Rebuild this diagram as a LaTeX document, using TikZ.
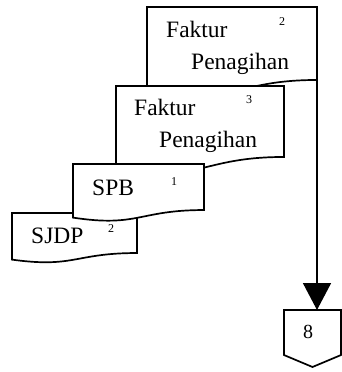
\documentclass[tikz,border=0pt]{standalone}
\usepackage{fontspec}
\setmainfont{Liberation Serif}
\usetikzlibrary{arrows.meta, calc, positioning}

% bentuk dokumen (gelombang di bawah)
\newcommand{\dokumen}[1]{%
  \draw[docline] (#1.north west) -- (#1.north east)
    -- ($(#1.north east)!0.802!(#1.south east)$) coordinate (#1-ujung)
    .. controls ($(#1.north)!0.802!(#1.south)$) and ($(#1.north)!1.1075!(#1.south)$)
    .. ($(#1.north west)!0.934!(#1.south west)$) -- cycle;}

\begin{document}
\begin{tikzpicture}[x=1pt,y=-1pt]
    \tikzset{
      docline/.style={line width=1.7pt, fill=white},
      docbox/.style={inner sep=0pt, outer sep=0pt},
      teks/.style={anchor=base west, inner sep=0pt, font=\fontsize{23.5}{26}\selectfont},
      angka/.style={inner sep=0pt, font=\fontsize{12}{12}\selectfont},
      panah/.style={line width=1.7pt, -{Triangle[length=27pt,width=28pt]}}
    }
    \useasboundingbox (0,0) rectangle (342,372);

    % faktur penagihan lembar 2
    \node[docbox, minimum width=170pt, minimum height=91pt] (fp2) at (232,52.5) {};
    \dokumen{fp2}
    \node[teks] (fp2a) at (166,37) {Faktur};
    \node[teks] (fp2b) at (191,69) {Penagihan};
    \node[angka] (fp2n) at (282,22) {2};

    % faktur penagihan lembar 3
    \node[docbox, minimum width=168pt, minimum height=88.5pt] (fp3) at (200,130.25) {};
    \dokumen{fp3}
    \node[teks] (fp3a) at (134,115) {Faktur};
    \node[teks] (fp3b) at (159,147) {Penagihan};
    \node[angka] (fp3n) at (249,100) {3};

    % SJDP
    \node[docbox, minimum width=125pt, minimum height=49.9pt] (sjdp) at (74.5,237.95) {};
    \dokumen{sjdp}
    \node[teks] (sjdpa) at (31,243) {SJDP};
    \node[angka] (sjdpn) at (111,229) {2};

    % SPB
    \node[docbox, minimum width=131pt, minimum height=57.4pt] (spb) at (138.5,192.7) {};
    \dokumen{spb}
    \node[teks] (spba) at (92,195) {SPB};
    \node[angka] (spbn) at (174,182) {1};

    % penghubung halaman
    \node[docbox, minimum width=57pt, minimum height=57pt] (hal8) at (312.5,338.5) {};
    \draw[docline] (hal8.north west) -- (hal8.north east)
      -- ($(hal8.north east)!0.79!(hal8.south east)$) -- (hal8.south)
      -- ($(hal8.north west)!0.79!(hal8.south west)$) -- cycle;
    \node[inner sep=0pt, font=\fontsize{20}{20}\selectfont] (hal8t) at (308,332) {8};

    \draw[panah] (fp2-ujung) -- (fp2-ujung |- hal8.north);
\end{tikzpicture}
\end{document}
